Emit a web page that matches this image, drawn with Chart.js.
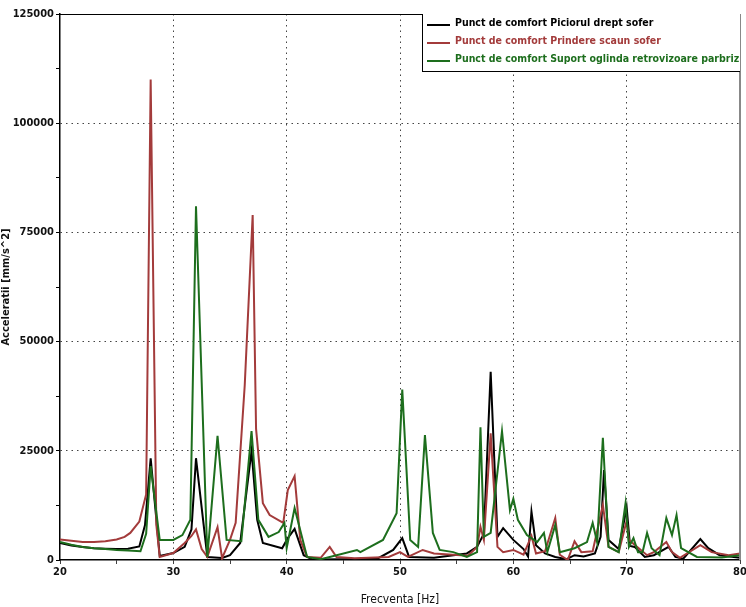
<!DOCTYPE html>
<html>
<head>
<meta charset="utf-8">
<script src="https://cdn.jsdelivr.net/npm/chart.js@4.4.1/dist/chart.umd.min.js"></script>
<style>
  html, body { margin: 0; padding: 0; background: #fff; }
</style>
</head>
<body>
<canvas id="accChart" width="746" height="607"></canvas>
<script>
// Frecventa [Hz] / acceleratie [mm/s^2]
const freqBlack = [20, 21, 22, 23, 24, 25, 26, 27, 27.5, 28, 28.8, 30, 31, 31.6, 32, 33, 34.3, 35, 35.9, 36.9, 37.4, 37.9,
    39.6, 40.1, 40.7, 41.5, 42.3, 45, 48, 49.4, 50.2, 50.8, 53, 55.9, 56.8, 57.4, 58, 58.6, 59.1, 60, 60.9, 61.3, 61.6, 62,
    62.8, 63.7, 64.7, 65.4, 66.2, 67.2, 67.7, 68, 68.4, 69.3, 70, 70.3, 70.7, 71.6, 72.4, 73.7, 74.3, 75, 76.5, 77.2, 78.2, 80];
const accBlack = [3900, 3300, 3000, 2700, 2600, 2500, 2600, 3100, 8000, 23300, 900, 1600, 3000, 7000, 23300, 700, 450, 1100, 3900, 25000, 9200, 3900,
    2700, 5000, 7100, 1100, 100, 150, 300, 2300, 5000, 700, 500, 1500, 3000, 6000, 43100, 5300, 7300, 4600, 2500, 800, 11100, 3400,
    1500, 700, 200, 1100, 800, 1500, 5300, 20600, 4600, 2500, 12000, 3200, 3000, 700, 1100, 3000, 700, 300, 4800, 2700, 1100, 500];

const freqRed = [20, 21, 22, 23, 24, 25, 25.7, 26.2, 27, 27.6, 28, 28.5, 28.8, 30, 31, 31.6, 32, 32.5, 33, 33.9, 34.3, 35, 35.5,
    36.3, 37, 37.3, 37.9, 38.5, 39.7, 40.1, 40.7, 41.2, 41.8, 43, 43.8, 44.4, 46, 49, 50, 50.7, 52, 53, 56, 56.8, 57.1, 57.4, 58,
    58.6, 59.1, 60, 60.9, 61.6, 62, 62.8, 63.7, 64.1, 64.8, 65.4, 66, 67, 67.9, 68.4, 69.3, 70, 70.2, 70.7, 71.8, 72.4, 73.5, 74,
    74.7, 76.5, 77.5, 79, 80];
const accRed = [4700, 4400, 4100, 4100, 4300, 4700, 5300, 6200, 8800, 15000, 110000, 8000, 700, 1600, 3900, 5500, 7000, 2500, 700, 7500, 400, 4600, 8500,
    40000, 79000, 30000, 13000, 10300, 8500, 16000, 19200, 4600, 700, 500, 3000, 700, 400, 700, 1800, 700, 2300, 1500, 1000, 3000, 7600, 4600, 29000,
    3000, 1800, 2300, 1200, 5500, 1500, 2000, 9600, 1200, 0, 4300, 1800, 2000, 12600, 3000, 1800, 9000, 4600, 3500, 1100, 1800, 4100, 1800,
    500, 3400, 1800, 1100, 1500];

const freqGreen = [20, 21, 22, 23, 24, 25, 26, 27.1, 27.6, 28, 28.8, 30, 30.8, 31.5, 32, 33, 33.9, 34.7, 36, 36.9, 37.5, 38.4, 39.3,
    39.8, 40, 40.7, 41.8, 43, 43.8, 46.2, 46.5, 48.5, 49.7, 50.2, 50.9, 51.6, 52.2, 52.9, 53.5, 54.7, 55.9, 56.8, 57.1, 57.4, 58,
    59, 59.7, 60, 60.4, 61.2, 62.1, 62.7, 63, 63.7, 64.1, 65.4, 66.5, 67, 67.4, 67.9, 68.4, 69.3, 69.9, 70.2, 70.6, 71, 71.4, 71.8,
    72.2, 72.9, 73.5, 74, 74.4, 74.8, 76.2, 78.4, 80];
const accGreen = [4100, 3500, 3000, 2700, 2500, 2300, 2200, 2000, 6000, 21500, 4600, 4600, 5700, 9200, 81000, 700, 28400, 4600, 4300, 29500, 9200, 5300, 6400,
    8500, 2700, 11900, 700, 200, 700, 2300, 1800, 4600, 10700, 39000, 4600, 3000, 28600, 6200, 2300, 1800, 700, 1800, 30400, 5300, 6200,
    29500, 11400, 14000, 9200, 5700, 4100, 6200, 1800, 8000, 1800, 2700, 4100, 8500, 4000, 28000, 3000, 1800, 13000, 3000, 5000, 1800, 1800, 6200,
    2700, 1100, 9600, 5700, 10300, 2700, 700, 600, 1100];

const seriesNames = [
    'Punct de comfort Piciorul drept sofer',
    'Punct de comfort Prindere scaun sofer',
    'Punct de comfort Suport oglinda retrovizoare parbriz'
];
const seriesColors = ['#000000', '#a33b3b', '#1d6e1d'];

const FONT = "'DejaVu Sans Condensed', 'DejaVu Sans', sans-serif";

function toPoints(xs, ys) {
    return xs.map((x, i) => ({ x: x, y: ys[i] }));
}

// frame round the plot area (top and right side)
const framePlugin = {
    id: 'frame',
    afterDraw(chart) {
        const { ctx, chartArea: a } = chart;
        ctx.save();
        ctx.lineWidth = 1;
        ctx.strokeStyle = '#000';
        ctx.beginPath();
        ctx.moveTo(a.left, a.top + 0.5);
        ctx.lineTo(a.right, a.top + 0.5);
        ctx.stroke();
        ctx.strokeStyle = '#888';
        ctx.lineWidth = 2;
        ctx.beginPath();
        ctx.moveTo(a.right, a.top);
        ctx.lineTo(a.right, a.bottom);
        ctx.stroke();
        ctx.restore();
    }
};

// legend box in the top right corner, inside the plot
const legendBoxPlugin = {
    id: 'legendBox',
    afterDraw(chart) {
        const { ctx, chartArea: a } = chart;
        const left = 422, top = 13, bottom = 71;
        ctx.save();
        ctx.beginPath();
        ctx.rect(a.left, a.top, a.right - a.left, a.bottom - a.top);
        ctx.clip();
        ctx.fillStyle = '#fff';
        ctx.fillRect(left, top, a.right - left + 2, bottom - top);
        ctx.strokeStyle = '#000';
        ctx.lineWidth = 1;
        ctx.strokeRect(left + 0.5, top + 0.5, a.right - left + 4, bottom - top);
        ctx.font = 'bold 10.5px ' + FONT;
        ctx.textBaseline = 'middle';
        seriesNames.forEach((name, i) => {
            const y = 23 + i * 18;
            ctx.strokeStyle = seriesColors[i];
            ctx.lineWidth = 2;
            ctx.beginPath();
            ctx.moveTo(427, y + 2);
            ctx.lineTo(450, y + 2);
            ctx.stroke();
            ctx.fillStyle = seriesColors[i];
            ctx.fillText(name, 455, y);
        });
        ctx.restore();
    }
};

new Chart(document.getElementById('accChart').getContext('2d'), {
    type: 'line',
    data: {
        datasets: [
            { label: seriesNames[0], data: toPoints(freqBlack, accBlack), borderColor: seriesColors[0], order: 2 },
            { label: seriesNames[1], data: toPoints(freqRed, accRed), borderColor: seriesColors[1], order: 1 },
            { label: seriesNames[2], data: toPoints(freqGreen, accGreen), borderColor: seriesColors[2], order: 0 }
        ]
    },
    options: {
        responsive: false,
        animation: false,
        events: [],
        layout: { padding: { top: 14, right: 0, left: 0, bottom: 0 } },
        elements: {
            line: { borderWidth: 2, tension: 0 },
            point: { radius: 0 }
        },
        plugins: {
            legend: { display: false },
            tooltip: { enabled: false }
        },
        scales: {
            x: {
                type: 'linear',
                min: 20,
                max: 80,
                afterFit: (scale) => {
                    scale.height = 47;
                    scale.paddingRight = 6;
                },
                ticks: {
                    stepSize: 5,
                    autoSkip: false,
                    maxRotation: 0,
                    padding: 2,
                    color: '#111',
                    font: { family: FONT, size: 11, weight: 'bold' },
                    callback: (v) => (v % 10 === 0 ? String(v) : '')
                },
                grid: {
                    color: (ctx) => {
                        const v = ctx.tick ? ctx.tick.value : null;
                        return v !== null && v % 10 === 0 && v > 20 && v < 80 ? '#444' : 'rgba(0,0,0,0)';
                    },
                    tickColor: '#000',
                    tickBorderDash: [1, 0],
                    tickLength: 4
                },
                border: { color: '#000', width: 1.5, dash: [1.5, 4] },
                title: {
                    display: true,
                    text: 'Frecventa [Hz]',
                    color: '#111',
                    font: { family: FONT, size: 12 },
                    padding: { top: 5, bottom: 0 }
                }
            },
            y: {
                min: 0,
                max: 125000,
                afterFit: (scale) => { scale.width = 60; },
                ticks: {
                    stepSize: 12500,
                    autoSkip: false,
                    padding: 2,
                    color: '#111',
                    font: { family: FONT, size: 11, weight: 'bold' },
                    callback: (v) => (v % 25000 === 0 ? String(v) : '')
                },
                grid: {
                    color: (ctx) => {
                        const v = ctx.tick ? ctx.tick.value : null;
                        return v !== null && v % 25000 === 0 && v > 0 && v < 125000 ? '#444' : 'rgba(0,0,0,0)';
                    },
                    tickColor: '#000',
                    tickBorderDash: [1, 0],
                    tickLength: 4
                },
                border: { color: '#000', width: 1.5, dash: [1.5, 4] },
                title: {
                    display: true,
                    text: 'Acceleratii [mm/s^2]',
                    color: '#111',
                    font: { family: FONT, size: 11, weight: 'bold' },
                    padding: { top: 0, bottom: 2 }
                }
            }
        }
    },
    plugins: [framePlugin, legendBoxPlugin]
});
</script>
</body>
</html>
